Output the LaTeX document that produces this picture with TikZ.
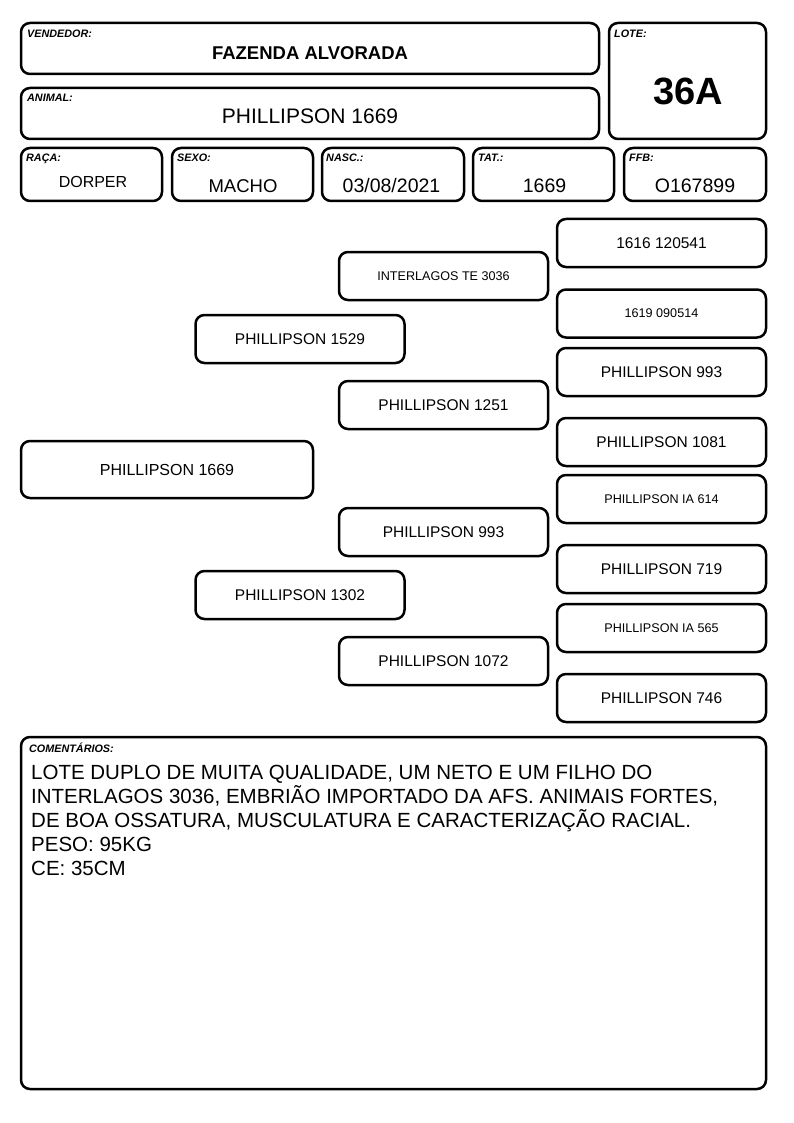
\documentclass[tikz,border=0pt]{standalone}
\usepackage{fontspec}
\setmainfont{Liberation Sans}
\begin{document}
\begin{tikzpicture}
        [x=1pt, y=-1pt,
        box/.style={draw, line width=2.5pt, rounded corners=9pt, inner sep=0pt, outer sep=0pt, minimum height=48pt},
        pedBox/.style={box, minimum width=209pt, font=\fontsize{15.5}{18}\selectfont},
        pedSmall/.style={pedBox, font=\fontsize{12.6}{14}\selectfont},
        tag/.style={anchor=north west, inner sep=0pt, font=\fontsize{10.8}{12}\selectfont\bfseries\itshape},
        value/.style={inner sep=0pt, font=\fontsize{19.5}{22}\selectfont}]
        \useasboundingbox (0,0) rectangle (794,1123);
        % cabecalho
        \node[box, minimum width=578pt, minimum height=51pt] (vend) at (310,48.5) {};
        \node[tag] (vendTag) at (27,30) {VENDEDOR:};
        \node[value, font=\fontsize{18.5}{22}\selectfont\bfseries] (vendVal) at (310,53) {FAZENDA ALVORADA};
        \node[box, minimum width=157pt, minimum height=116pt] (lote) at (687.5,81) {};
        \node[tag] (loteTag) at (614,30) {LOTE:};
        \node[value, font=\fontsize{38}{40}\selectfont\bfseries] (loteVal) at (688,91) {36A};
        \node[box, minimum width=578pt, minimum height=51pt] (anim) at (310,113.5) {};
        \node[tag] (animTag) at (27,94) {ANIMAL:};
        \node[value, font=\fontsize{21}{22}\selectfont] (animVal) at (310,116) {PHILLIPSON 1669};
        % linha de dados
        \node[box, minimum width=141pt, minimum height=53pt] (raca) at (91.5,174.5) {};
        \node[tag] (racaTag) at (26,154) {RAÇA:};
        \node[value, font=\fontsize{16}{18}\selectfont] (racaVal) at (93,182) {DORPER};
        \node[box, minimum width=141pt, minimum height=53pt] (sexo) at (242.5,174.5) {};
        \node[tag] (sexoTag) at (177,154) {SEXO:};
        \node[value, font=\fontsize{18.5}{22}\selectfont] (sexoVal) at (243,186) {MACHO};
        \node[box, minimum width=142pt, minimum height=53pt] (nasc) at (393,174.5) {};
        \node[tag] (nascTag) at (326,154) {NASC.:};
        \node[value] (nascVal) at (391.5,186) {03/08/2021};
        \node[box, minimum width=141pt, minimum height=53pt] (tat) at (543.5,174.5) {};
        \node[tag] (tatTag) at (478,154) {TAT.:};
        \node[value] (tatVal) at (544.5,186) {1669};
        \node[box, minimum width=142pt, minimum height=53pt] (ffb) at (695,174.5) {};
        \node[tag] (ffbTag) at (629,154) {FFB:};
        \node[value] (ffbVal) at (695,186) {O167899};
        % genealogia
        \node[box, minimum width=292pt, minimum height=57pt, font=\fontsize{16}{18}\selectfont] (animal) at (167,469.5) {PHILLIPSON 1669};
        \node[pedBox] (pai) at (300,339) {PHILLIPSON 1529};
        \node[pedBox] (mae) at (300,595) {PHILLIPSON 1302};
        \node[pedSmall] (avoPP) at (443.5,276) {INTERLAGOS TE 3036};
        \node[pedBox] (avoPM) at (443.5,405) {PHILLIPSON 1251};
        \node[pedBox] (avoMP) at (443.5,532) {PHILLIPSON 993};
        \node[pedBox] (avoMM) at (443.5,661) {PHILLIPSON 1072};
        \node[pedBox] (bis1) at (661.5,243) {1616 120541};
        \node[pedSmall] (bis2) at (661.5,313.5) {1619 090514};
        \node[pedBox] (bis3) at (661.5,372) {PHILLIPSON 993};
        \node[pedBox] (bis4) at (661.5,442) {PHILLIPSON 1081};
        \node[pedSmall] (bis5) at (661.5,499) {PHILLIPSON IA 614};
        \node[pedBox] (bis6) at (661.5,569) {PHILLIPSON 719};
        \node[pedSmall] (bis7) at (661.5,628) {PHILLIPSON IA 565};
        \node[pedBox] (bis8) at (661.5,698) {PHILLIPSON 746};
        % comentarios
        \node[box, minimum width=745pt, minimum height=352pt] (coment) at (393.5,913) {};
        \node[tag] (comentTag) at (29,743) {COMENTÁRIOS:};
        \node[anchor=north west, inner sep=0pt, align=left, font=\fontsize{20.5}{24}\selectfont] (comentVal) at (31,765)
            {LOTE DUPLO DE MUITA QUALIDADE, UM NETO E UM FILHO DO\\
             INTERLAGOS 3036, EMBRIÃO IMPORTADO DA AFS. ANIMAIS FORTES,\\
             DE BOA OSSATURA, MUSCULATURA E CARACTERIZAÇÃO RACIAL.\\
             PESO: 95KG\\
             CE: 35CM};
    \end{tikzpicture}
\end{document}
